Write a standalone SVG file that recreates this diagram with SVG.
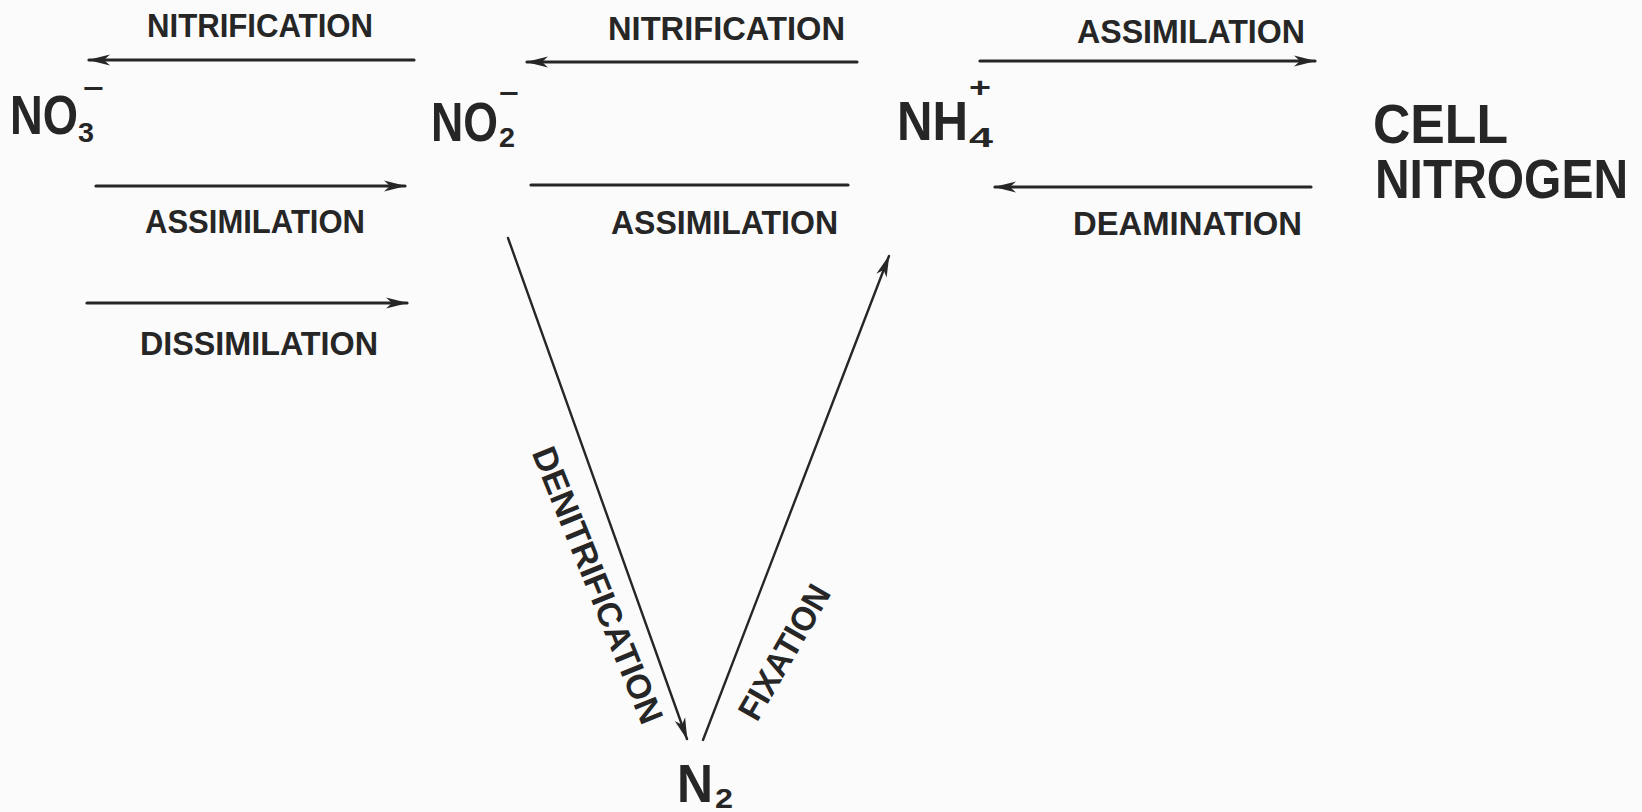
<svg xmlns="http://www.w3.org/2000/svg" width="1642" height="812" viewBox="0 0 1642 812">
<defs>
<style>
.lbl{font-family:"Liberation Sans",Arial,sans-serif;font-weight:bold;font-size:34px;fill:#262626}
.chem{font-family:"Liberation Sans",Arial,sans-serif;font-weight:bold;font-size:56px;fill:#262626}
.sub{font-family:"Liberation Sans",Arial,sans-serif;font-weight:bold;font-size:28px;fill:#262626}
.ln{stroke:#262626;stroke-width:3.2;fill:none;stroke-linecap:round}
.dg{stroke:#262626;stroke-width:2.4;fill:none;stroke-linecap:round}
</style>
<marker id="ah" markerUnits="userSpaceOnUse" viewBox="0 0 22 12" refX="21" refY="6" markerWidth="22" markerHeight="12" orient="auto">
<path d="M0,0.5 L22,6 L0,11.5 L6,6 z" fill="#262626"/>
</marker>
</defs>
<rect x="0" y="0" width="1642" height="812" fill="#fbfbfb"/>

<g id="no3">
<text class="chem" x="10" y="134" textLength="68" lengthAdjust="spacingAndGlyphs">NO</text>
<text class="sub" x="78" y="142" textLength="16" lengthAdjust="spacingAndGlyphs">3</text>
<text class="sub" x="83" y="98" textLength="21" lengthAdjust="spacingAndGlyphs">−</text>
</g>

<g id="no2">
<text class="chem" x="431" y="141" textLength="67" lengthAdjust="spacingAndGlyphs">NO</text>
<text class="sub" x="499" y="147" textLength="16" lengthAdjust="spacingAndGlyphs">2</text>
<text class="sub" x="499" y="103" textLength="20" lengthAdjust="spacingAndGlyphs">−</text>
</g>

<g id="nh4">
<text class="chem" x="897" y="140" textLength="71" lengthAdjust="spacingAndGlyphs">NH</text>
<text class="sub" x="969" y="147" textLength="24" lengthAdjust="spacingAndGlyphs">4</text>
<text class="sub" x="969" y="97" textLength="22" lengthAdjust="spacingAndGlyphs">+</text>
</g>

<g id="cell">
<text class="chem" x="1373" y="143" textLength="135" lengthAdjust="spacingAndGlyphs">CELL</text>
<text class="chem" x="1375" y="198" textLength="253" lengthAdjust="spacingAndGlyphs">NITROGEN</text>
</g>

<g id="n2">
<text class="chem" x="677" y="802" textLength="36" lengthAdjust="spacingAndGlyphs" style="font-size:54px">N</text>
<text class="sub" x="715" y="808" textLength="18" lengthAdjust="spacingAndGlyphs">2</text>
</g>

<g id="connectors">
<line class="ln" x1="414" y1="60" x2="89" y2="60" marker-end="url(#ah)"/>
<line class="ln" x1="857" y1="62" x2="527" y2="62" marker-end="url(#ah)"/>
<line class="ln" x1="980" y1="61" x2="1315" y2="61" marker-end="url(#ah)"/>
<line class="ln" x1="1311" y1="187" x2="995" y2="187" marker-end="url(#ah)"/>
<line class="ln" x1="96" y1="186" x2="405" y2="186" marker-end="url(#ah)"/>
<line class="ln" x1="531" y1="185" x2="848" y2="185"/>
<line class="ln" x1="87" y1="303" x2="407" y2="303" marker-end="url(#ah)"/>
<line class="dg" x1="508" y1="238" x2="687" y2="739" marker-end="url(#ah)"/>
<line class="dg" x1="703" y1="740" x2="889" y2="256" marker-end="url(#ah)"/>
</g>

<g id="labels">
<text class="lbl" x="147" y="37" textLength="226" lengthAdjust="spacingAndGlyphs">NITRIFICATION</text>
<text class="lbl" x="608" y="40" textLength="237" lengthAdjust="spacingAndGlyphs">NITRIFICATION</text>
<text class="lbl" x="1077" y="43" textLength="228" lengthAdjust="spacingAndGlyphs">ASSIMILATION</text>
<text class="lbl" x="145" y="233" textLength="220" lengthAdjust="spacingAndGlyphs">ASSIMILATION</text>
<text class="lbl" x="611" y="234" textLength="227" lengthAdjust="spacingAndGlyphs">ASSIMILATION</text>
<text class="lbl" x="1073" y="235" textLength="229" lengthAdjust="spacingAndGlyphs">DEAMINATION</text>
<text class="lbl" x="140" y="355" textLength="238" lengthAdjust="spacingAndGlyphs">DISSIMILATION</text>
<text class="lbl" text-anchor="middle" transform="translate(598,585) rotate(68)" x="0" y="12" textLength="295" lengthAdjust="spacingAndGlyphs">DENITRIFICATION</text>
<text class="lbl" text-anchor="middle" transform="translate(784,652) rotate(-60)" x="0" y="12" textLength="150" lengthAdjust="spacingAndGlyphs">FIXATION</text>
</g>
</svg>
